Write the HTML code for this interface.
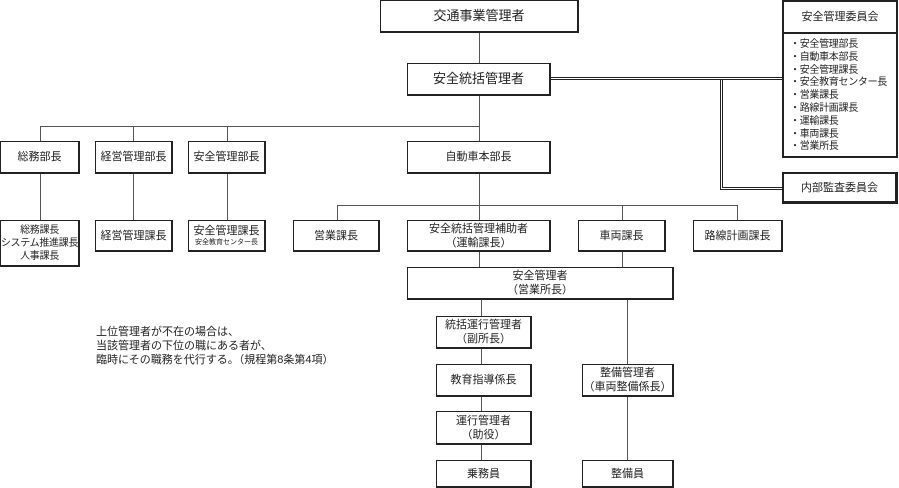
<!DOCTYPE html>
<html><head><meta charset="utf-8"><style>
body{margin:0;width:899px;height:488px;background:#fff;position:relative;overflow:hidden;font-family:"Liberation Sans","Noto Sans CJK JP",sans-serif;color:#222}
.b{position:absolute;box-sizing:border-box;border:1px solid #222;border-right-width:2px;border-bottom-width:2px;background:#fff;display:flex;align-items:center;justify-content:center;text-align:center;font-size:11px;line-height:14px;white-space:nowrap}
svg{position:absolute;left:0;top:0}
</style></head><body>
<svg width="899" height="488">
<g stroke="#555" stroke-width="1" fill="none">
<line x1="479.5" y1="32" x2="479.5" y2="63"/>
<line x1="479.5" y1="95" x2="479.5" y2="141"/>
<line x1="40" y1="126.5" x2="479" y2="126.5"/>
<line x1="40.5" y1="126" x2="40.5" y2="141"/>
<line x1="133.5" y1="126" x2="133.5" y2="141"/>
<line x1="227.5" y1="126" x2="227.5" y2="141"/>
<line x1="40.5" y1="173" x2="40.5" y2="220"/>
<line x1="133.5" y1="173" x2="133.5" y2="220"/>
<line x1="227.5" y1="173" x2="227.5" y2="220"/>
<line x1="479.5" y1="173" x2="479.5" y2="220"/>
<line x1="337" y1="205.5" x2="737" y2="205.5"/>
<line x1="337.5" y1="205" x2="337.5" y2="220"/>
<line x1="622.5" y1="205" x2="622.5" y2="220"/>
<line x1="737.5" y1="205" x2="737.5" y2="220"/>
<line x1="479.5" y1="252" x2="479.5" y2="267"/>
<line x1="622.5" y1="252" x2="622.5" y2="267"/>
<line x1="481.5" y1="299" x2="481.5" y2="460"/>
<line x1="627.5" y1="299" x2="627.5" y2="460"/>
</g>
<g fill="none" shape-rendering="crispEdges">
<polyline points="550,78.5 782,78.5" stroke="#222" stroke-width="3"/>
<polyline points="721.5,78 721.5,188.5 782,188.5" stroke="#222" stroke-width="3"/>
<polyline points="550,78.5 782,78.5" stroke="#fff" stroke-width="1"/>
<polyline points="721.5,80 721.5,188.5 782,188.5" stroke="#fff" stroke-width="1"/>
</g>
</svg>
<div class="b" style="left:380px;top:0;width:199px;height:33px;font-size:13px">交通事業管理者</div>
<div class="b" style="left:407px;top:63px;width:144px;height:33px;font-size:13px">安全統括管理者</div>
<div class="b" style="left:0;top:141px;width:80px;height:33px">総務部長</div>
<div class="b" style="left:95px;top:141px;width:78px;height:33px">経営管理部長</div>
<div class="b" style="left:188px;top:141px;width:78px;height:33px">安全管理部長</div>
<div class="b" style="left:407px;top:141px;width:144px;height:33px">自動車本部長</div>
<div class="b" style="left:0;top:220px;width:80px;height:47px;font-size:10px;line-height:13px;letter-spacing:-0.3px">総務課長<br>システム推進課長<br>人事課長</div>
<div class="b" style="left:95px;top:220px;width:78px;height:32px">経営管理課長</div>
<div class="b" style="left:188px;top:220px;width:78px;height:32px;flex-direction:column">安全管理課長<span style="font-size:7px;line-height:10px">安全教育センター長</span></div>
<div class="b" style="left:293px;top:220px;width:87px;height:32px">営業課長</div>
<div class="b" style="left:407px;top:220px;width:144px;height:32px">安全統括管理補助者<br>（運輸課長）</div>
<div class="b" style="left:578px;top:220px;width:88px;height:32px">車両課長</div>
<div class="b" style="left:693px;top:220px;width:90px;height:32px">路線計画課長</div>
<div class="b" style="left:407px;top:267px;width:267px;height:33px">安全管理者<br>（営業所長）</div>
<div class="b" style="left:436px;top:316px;width:96px;height:33px">統括運行管理者<br>（副所長）</div>
<div class="b" style="left:436px;top:364px;width:96px;height:33px">教育指導係長</div>
<div class="b" style="left:436px;top:411px;width:96px;height:34px">運行管理者<br>（助役）</div>
<div class="b" style="left:436px;top:460px;width:96px;height:28px">乗務員</div>
<div class="b" style="left:582px;top:364px;width:92px;height:33px">整備管理者<br>（車両整備係長）</div>
<div class="b" style="left:582px;top:460px;width:92px;height:28px">整備員</div>
<div class="b" style="left:782px;top:0;width:116px;height:34px;border:2px solid #222">安全管理委員会</div>
<div class="b" style="left:782px;top:32px;width:116px;height:126px;border:2px solid #222;justify-content:flex-start;text-align:left;align-items:flex-start;padding:5px 0 0 6px;line-height:12.8px;font-size:10px;letter-spacing:-0.3px">・安全管理部長<br>・自動車本部長<br>・安全管理課長<br>・安全教育センター長<br>・営業課長<br>・路線計画課長<br>・運輸課長<br>・車両課長<br>・営業所長</div>
<div class="b" style="left:782px;top:172px;width:116px;height:32px;border:2px solid #222;border-width:2px 3px 3px 2px">内部監査委員会</div>
<div style="position:absolute;left:96px;top:325px;font-size:11px;line-height:14px;white-space:nowrap">上位管理者が不在の場合は、<br>当該管理者の下位の職にある者が、<br>臨時にその職務を代行する。（規程第8条第4項）</div>
</body></html>
